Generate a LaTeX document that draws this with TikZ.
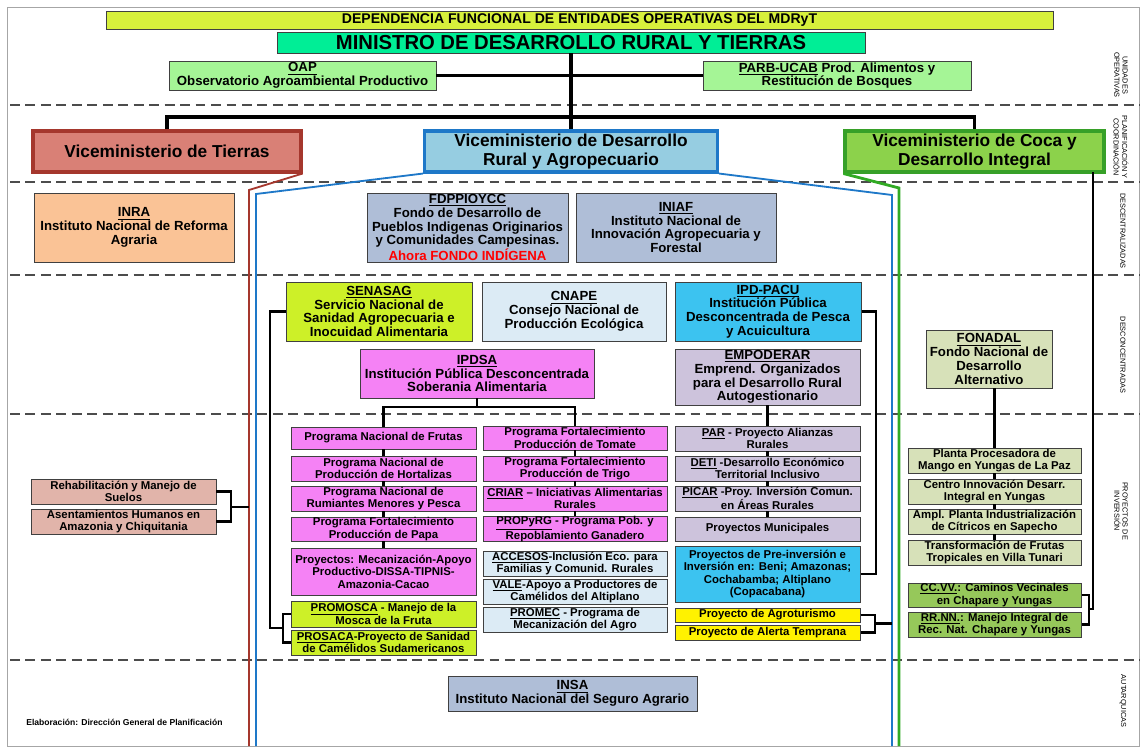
\documentclass[tikz,border=0pt]{standalone}
\usepackage{fontspec}
\setmainfont{Liberation Sans}
\usetikzlibrary{calc}

\definecolor{titleY}{RGB}{215,240,60}
\definecolor{minG}{RGB}{0,238,150}
\definecolor{unitG}{RGB}{165,245,150}
\definecolor{tieF}{RGB}{217,128,118}
\definecolor{tieD}{RGB}{165,55,45}
\definecolor{vdrF}{RGB}{150,205,225}
\definecolor{vdrD}{RGB}{30,120,200}
\definecolor{cocF}{RGB}{140,210,75}
\definecolor{cocD}{RGB}{55,160,40}
\definecolor{peach}{RGB}{250,195,150}
\definecolor{slate}{RGB}{175,190,215}
\definecolor{lime}{RGB}{205,240,40}
\definecolor{pale}{RGB}{220,235,245}
\definecolor{cyanB}{RGB}{60,195,240}
\definecolor{pink}{RGB}{245,130,245}
\definecolor{lav}{RGB}{205,195,220}
\definecolor{olive}{RGB}{215,225,185}
\definecolor{grass}{RGB}{150,200,90}
\definecolor{rosy}{RGB}{225,180,170}

\tikzset{
    size/.style 2 args={minimum width=#1*0.025cm, minimum height=#2*0.025cm},
    box/.style={draw=black!75, line width=0.7pt, inner sep=0pt, align=center,
        font=\bfseries\fontsize{9.4}{9.8}\selectfont},
    prj/.style={box, font=\bfseries\fontsize{8.1}{8.9}\selectfont},
    vice/.style={box, line width=2.2pt, font=\bfseries\fontsize{12.3}{13}\selectfont},
    trunk/.style={line width=2.2pt},
    link/.style={line width=1.5pt},
    sep/.style={gray!60!black, line width=0.9pt, dash pattern=on 7pt off 4pt},
    side/.style={rotate=-90, align=center, font=\fontsize{5.2}{6}\selectfont},
}

\begin{document}
\begin{tikzpicture}[x=0.025cm,y=-0.025cm]
    \useasboundingbox (0,0) rectangle (1143,749);
    \draw[gray!70, line width=0.5pt] (7,7) rectangle (1139,746);

    % level separators
    \foreach \y in {105,182,275,414,660}
        \draw[sep] (10,\y) -- (1140,\y);

    % ministry and operative units
    \node[box, fill=titleY, size={947}{18}, font=\bfseries\fontsize{10}{11}\selectfont]
        (TIT) at (579.5,20) {DEPENDENCIA FUNCIONAL DE ENTIDADES OPERATIVAS DEL MDRyT};
    \node[box, fill=minG, size={588}{21}, font=\bfseries\fontsize{14.4}{15}\selectfont]
        (MIN) at (571,42.5) {MINISTRO DE DESARROLLO RURAL Y TIERRAS};
    \node[box, fill=unitG, size={267}{29}] (OAP) at (302.5,75.5)
        {\underline{OAP}\\Observatorio Agroambiental Productivo};
    \node[box, fill=unitG, size={268}{29}] (PARB) at (837,75.5)
        {\underline{PARB-UCAB} Prod. Alimentos y\\Restitución de Bosques};

    % vice ministries
    \node[vice, draw=tieD, fill=tieF, size={268}{41}] (TIE) at (167,151.5) {Viceministerio de Tierras};
    \node[vice, draw=vdrD, fill=vdrF, size={293}{41}] (VDR) at (571,151.5)
        {Viceministerio de Desarrollo\\Rural y Agropecuario};
    \node[vice, draw=cocD, fill=cocF, size={259}{41}] (COCA) at (974.5,151.5)
        {Viceministerio de Coca y\\Desarrollo  Integral};

    \coordinate (bar) at (571,117);
    \draw[trunk] (MIN.south) -- (VDR.north);
    \draw[trunk] (OAP.east) -- (PARB.west);
    \draw[trunk] (TIE.north) |- (bar) -| (COCA.north);

    % branch lines of each vice ministry
    \coordinate (R1) at (249,190);
    \coordinate (R2) at (249,746);
    \coordinate (B1) at (256,194);
    \coordinate (B2) at (256,746);
    \coordinate (B3) at (892,195);
    \coordinate (B4) at (892,746);
    \coordinate (G1) at (899,188);
    \coordinate (G2) at (899,746);
    \draw[tieD, line width=1.3pt] (TIE.south east) -- (R1) -- (R2);
    \draw[vdrD, line width=1.3pt] (VDR.south west) -- (B1) -- (B2);
    \draw[vdrD, line width=1.3pt] (VDR.south east) -- (B3) -- (B4);
    \draw[cocD!90!green, line width=2pt] (COCA.south west) -- (G1) -- (G2);

    % decentralized
    \node[box, fill=peach, size={200}{69}] (INRA) at (134,227.5)
        {\underline{INRA}\\Instituto Nacional de Reforma\\Agraria};
    \node[box, fill=slate, size={201}{69}] (FDP) at (467.5,227.5)
        {\underline{FDPPIOYCC}\\Fondo de Desarrollo de\\Pueblos Indigenas Originarios\\y Comunidades Campesinas.\\\textcolor{red}{Ahora FONDO INDÍGENA}};
    \node[box, fill=slate, size={200}{69}] (INIAF) at (676,227.5)
        {\underline{INIAF}\\Instituto Nacional de\\Innovación Agropecuaria y\\Forestal};

    % deconcentrated
    \node[box, fill=lime, size={186}{59}] (SEN) at (379,311.5)
        {\underline{SENASAG}\\Servicio Nacional de\\Sanidad Agropecuaria e\\Inocuidad Alimentaria};
    \node[box, fill=pale, size={184}{59}] (CNA) at (574,311.5)
        {\underline{CNAPE}\\Consejo Nacional de\\Producción Ecológica};
    \node[box, fill=cyanB, size={186}{59}] (PACU) at (768,311.5)
        {\underline{IPD-PACU}\\Institución Pública\\Desconcentrada de  Pesca\\y Acuicultura};
    \node[box, fill=pink, size={234}{49}] (IPD) at (477,373.5)
        {\underline{IPDSA}\\Institución Pública Desconcentrada\\Soberania Alimentaria};
    \node[box, fill=lav, size={185}{56}] (EMP) at (767.5,377)
        {\underline{EMPODERAR}\\Emprend. Organizados\\para el Desarrollo Rural\\Autogestionario};
    \node[box, fill=olive, size={126}{58}] (FON) at (989,359)
        {\underline{FONADAL}\\Fondo Nacional de\\Desarrollo\\Alternativo};

    % investment projects, left
    \node[prj, fill=rosy, size={185}{25}] (REH) at (123.5,491.5) {Rehabilitación y Manejo de\\Suelos};
    \node[prj, fill=rosy, size={185}{25}] (ASE) at (123.5,521.5) {Asentamientos Humanos en\\Amazonia y Chiquitania};

    % investment projects, IPDSA and SENASAG
    \node[prj, fill=pink, size={185}{22}] (FRU) at (383.5,438) {Programa Nacional de Frutas};
    \node[prj, fill=pink, size={185}{25}] (HOR) at (383.5,468.5) {Programa Nacional de\\Producción de Hortalizas};
    \node[prj, fill=pink, size={185}{25}] (RUM) at (383.5,498.5) {Programa Nacional de\\Rumiantes Menores y Pesca};
    \node[prj, fill=pink, size={185}{24}] (PAP) at (383.5,529) {Programa Fortalecimiento\\Producción de Papa};
    \node[prj, fill=pink, size={185}{47}] (PRY) at (383.5,571.5)
        {Proyectos: Mecanización-Apoyo\\Productivo-DISSA-TIPNIS-\\Amazonia-Cacao};
    \node[prj, fill=lime, size={185}{26}] (MOS) at (383.5,614) {\underline{PROMOSCA} - Manejo de la\\Mosca de la Fruta};
    \node[prj, fill=lime, size={185}{25}] (SAC) at (383.5,642.5) {\underline{PROSACA}-Proyecto de Sanidad\\de Camélidos Sudamericanos};

    \node[prj, fill=pink, size={184}{24}] (TOM) at (575,438) {Programa Fortalecimiento\\Producción de Tomate};
    \node[prj, fill=pink, size={184}{25}] (TRI) at (575,468.5) {Programa Fortalecimiento\\Producción de Trigo};
    \node[prj, fill=pink, size={184}{25}] (CRI) at (575,498.5) {\underline{CRIAR} -- Iniciativas Alimentarias\\Rurales};
    \node[prj, fill=pink, size={184}{24}] (POB) at (575,529) {\underline{PROPyRG} - Programa Pob. y\\Repoblamiento Ganadero};
    \node[prj, fill=pale, size={184}{25}] (ACC) at (575,563.5) {\underline{ACCESOS}-Inclusión Eco. para\\Familias y Comunid. Rurales};
    \node[prj, fill=pale, size={184}{25}] (VAL) at (575,591.5) {\underline{VALE}-Apoyo a Productores de\\Camélidos del Altiplano};
    \node[prj, fill=pale, size={184}{25}] (MEC) at (575,619.5) {\underline{PROMEC} - Programa de\\Mecanización del Agro};

    % investment projects, EMPODERAR and IPD-PACU
    \node[prj, fill=lav, size={185}{25}] (PAR) at (767.5,438.5) {\underline{PAR} - Proyecto Alianzas\\Rurales};
    \node[prj, fill=lav, size={185}{25}] (DET) at (767.5,468.5) {\underline{DETI} -Desarrollo Económico\\Territorial Inclusivo};
    \node[prj, fill=lav, size={185}{25}] (PIC) at (767.5,498.5) {\underline{PICAR} -Proy. Inversión Comun.\\en Áreas Rurales};
    \node[prj, fill=lav, size={185}{24}] (MUN) at (767.5,529) {Proyectos Municipales};
    \node[prj, fill=cyanB, size={185}{56}] (PRE) at (767.5,574)
        {Proyectos de Pre-inversión e\\Inversión en: Beni; Amazonas;\\Cochabamba; Altiplano\\(Copacabana)};
    \node[prj, fill=yellow, size={185}{14}] (AGR) at (767.5,615) {Proyecto de Agroturismo};
    \node[prj, fill=yellow, size={185}{15}] (ALE) at (767.5,632.5) {Proyecto de Alerta Temprana};

    % investment projects, FONADAL
    \node[prj, fill=olive, size={173}{25}] (PL1) at (994.5,460.5) {Planta Procesadora de\\Mango en Yungas de La Paz};
    \node[prj, fill=olive, size={173}{25}] (PL2) at (994.5,491.5) {Centro Innovación  Desarr.\\Integral en Yungas};
    \node[prj, fill=olive, size={173}{25}] (PL3) at (994.5,521.5) {Ampl. Planta Industrialización\\de Cítricos en Sapecho};
    \node[prj, fill=olive, size={173}{25}] (PL4) at (994.5,552.5) {Transformación de Frutas\\Tropicales en Villa Tunari};
    \node[prj, fill=grass, size={173}{24}] (CCV) at (994.5,595) {\underline{CC.VV.}: Caminos Vecinales\\en Chapare y Yungas};
    \node[prj, fill=grass, size={173}{25}] (RRN) at (994.5,624.5) {\underline{RR.NN.}: Manejo Integral de\\Rec. Nat. Chapare y Yungas};

    % autarchic
    \node[box, fill=slate, size={249}{35}] (INSA) at (572.5,693.5)
        {\underline{INSA}\\Instituto Nacional del Seguro Agrario};

    % chains
    \foreach \a/\b in {FRU/HOR,HOR/RUM,RUM/PAP,PAP/PRY,TOM/TRI,TRI/CRI,CRI/POB,
                       EMP/PAR,PAR/DET,DET/PIC,PIC/MUN,PL1/PL2,PL2/PL3,PL3/PL4}
        \draw[link] (\a.south) -- (\b.north);
    \draw[link] (PL1.north |- FON.south) -- (PL1.north);

    % IPDSA fork
    \coordinate (ipb) at (477,407);
    \draw[link] (IPD.south) -- (ipb);
    \draw[link] (FRU.north) |- (ipb) -| (TOM.north);

    % brackets
    \coordinate (lb) at (231,507);
    \draw[link] (REH.east) -| (lb) |- (ASE.east);
    \draw[link] (lb) -- (lb -| R2);

    \coordinate (S1) at (270,628);
    \coordinate (S2) at (283,628);
    \draw[link] (SEN.west) -| (S1) -- (S2);
    \draw[link] (MOS.west) -| (S2) |- (SAC.west);

    \coordinate (P1) at (876,574);
    \draw[link] (PACU.east) -| (P1) -- (PRE.east);

    \coordinate (A1) at (875,623.5);
    \draw[link] (AGR.east) -| (A1) |- (ALE.east);
    \draw[link] (A1) -- (A1 -| B4);

    \coordinate (C1) at (1089,609);
    \coordinate (K1) at (1093,172);
    \coordinate (K2) at (1093,609);
    \draw[link] (CCV.east) -| (C1) |- (RRN.east);
    \draw[link] (C1) -- (K2) -- (K1);

    % level names
    \node[side] (L1) at (1121,75) {UNIDADES\\OPERATIVAS};
    \node[side] (L2) at (1121,147) {PLANIFICACIÓN Y\\COORDINACIÓN};
    \node[side] (L3) at (1123,231) {DESCENTRALIZADAS};
    \node[side] (L4) at (1123,355) {DESCONCENTRADAS};
    \node[side] (L5) at (1121,511) {PROYECTOS DE\\INVERSIÓN};
    \node[side] (L6) at (1123,701) {AUTARQUICAS};

    \node[anchor=west, inner sep=0pt, font=\bfseries\fontsize{6.1}{7}\selectfont]
        (ELA) at (26,722) {Elaboración: Dirección General de Planificación};
\end{tikzpicture}
\end{document}
